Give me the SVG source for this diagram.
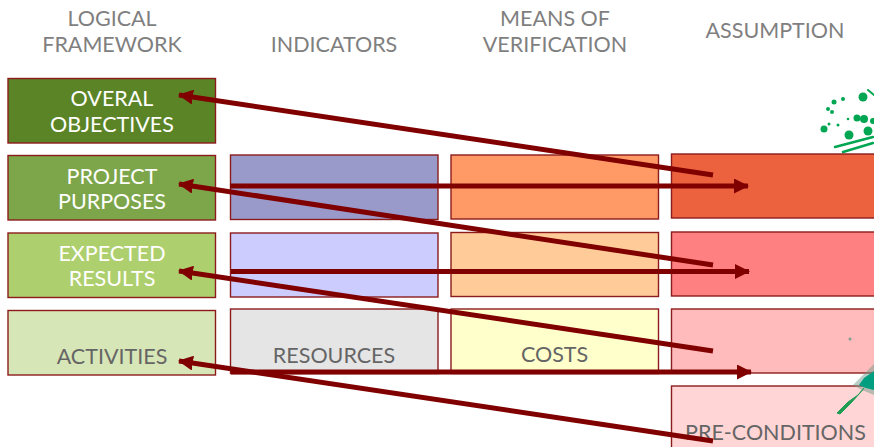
<svg xmlns="http://www.w3.org/2000/svg" width="874" height="447" viewBox="0 0 874 447">
<style>
text{font-family:Lato,"Open Sans","Liberation Sans",sans-serif;font-size:21.500px;text-anchor:middle}
.h{fill:#7f7f7f}
.w{fill:#fff}
.d{fill:#656565}
.b{stroke:#8c1c1c;stroke-width:1.400}
.c{stroke:#800000;stroke-width:5;fill:none}
.s{fill:#00a651;stroke:none}
.t{stroke:#00a651;fill:none;stroke-linecap:round}
</style>
<defs>
<marker id="a" markerUnits="userSpaceOnUse" markerWidth="15" markerHeight="15" refX="14" refY="7.500" orient="auto"><path d="M0 0L15 7.500L0 15z" fill="#800000"/></marker>
</defs>
<g id="hdr-logical"><text class="h" x="112" y="26">LOGICAL</text><text class="h" x="112" y="52">FRAMEWORK</text></g>
<g id="hdr-indicators"><text class="h" x="334" y="52">INDICATORS</text></g>
<g id="hdr-means"><text class="h" x="555" y="26">MEANS OF</text><text class="h" x="555" y="52">VERIFICATION</text></g>
<g id="hdr-assumption"><text class="h" x="775" y="38">ASSUMPTION</text></g>
<g id="splash-top">
<circle class="s" cx="824" cy="129" r="3.500"/><circle class="s" cx="849" cy="135" r="4.500"/><circle class="s" cx="834" cy="102" r="2.500"/><circle class="s" cx="843" cy="99" r="2"/><circle class="s" cx="828" cy="109" r="2"/><circle class="s" cx="832" cy="112" r="2"/><circle class="s" cx="829" cy="124" r="1.500"/><circle class="s" cx="838" cy="125" r="1.500"/><circle class="s" cx="848" cy="119" r="1.300"/><circle class="s" cx="857" cy="118" r="3.500"/><circle class="s" cx="864" cy="119" r="4"/><circle class="s" cx="873" cy="121" r="3"/><circle class="s" cx="868" cy="131" r="4.500"/><circle class="s" cx="863" cy="97" r="4.500"/>
<path class="t" stroke-width="2.500" d="M835 147L873 137"/><path class="t" stroke-width="2.500" d="M843 152L873 143"/><path class="t" stroke-width="2" d="M868 90L874 95"/>
</g>
<g id="n-overal"><rect class="b" x="8" y="78.500" width="207.500" height="64.500" fill="#5b8427"/><text class="w" x="112" y="106">OVERAL</text><text class="w" x="112" y="132">OBJECTIVES</text></g>
<g id="n-purposes"><rect class="b" x="8" y="155.500" width="207.500" height="64.500" fill="#7da64a"/><text class="w" x="112" y="184">PROJECT</text><text class="w" x="112" y="209">PURPOSES</text></g>
<g id="n-results"><rect class="b" x="8" y="233" width="207.500" height="64.500" fill="#aecf6e"/><text class="w" x="112" y="261">EXPECTED</text><text class="w" x="112" y="286">RESULTS</text></g>
<g id="n-activities"><rect class="b" x="8" y="310.500" width="207.500" height="64.500" fill="#d7e6b7"/><text class="d" x="112" y="364">ACTIVITIES</text></g>
<g id="n-ind1"><rect class="b" x="230.500" y="155" width="207.500" height="64.500" fill="#9a9aca"/></g>
<g id="n-ind2"><rect class="b" x="230.500" y="233" width="207.500" height="64" fill="#ccccff"/></g>
<g id="n-resources"><rect class="b" x="230.500" y="309" width="207.500" height="64.500" fill="#e5e5e5"/><text class="d" x="334" y="363">RESOURCES</text></g>
<g id="n-mov1"><rect class="b" x="451" y="155" width="207.500" height="64" fill="#ff9966"/></g>
<g id="n-mov2"><rect class="b" x="451" y="232.500" width="207.500" height="64" fill="#ffcc99"/></g>
<g id="n-costs"><rect class="b" x="451" y="309" width="207.500" height="64.500" fill="#ffffcc"/><text class="d" x="554.500" y="362">COSTS</text></g>
<g id="n-as1"><rect class="b" x="671.500" y="154" width="210" height="64" fill="#ec623f"/></g>
<g id="n-as2"><rect class="b" x="671.500" y="232" width="210" height="64" fill="#ff8080"/></g>
<g id="n-as3"><rect class="b" x="671.500" y="309" width="210" height="64" fill="#ffbbbb"/></g>
<g id="n-pre"><rect class="b" x="671.500" y="386" width="210" height="70" fill="#ffd5d5"/><text class="d" x="775.500" y="440">PRE-CONDITIONS</text></g>
<g id="splash-bottom">
<path d="M874 364L866 372L860 378L853 385L862 390L874 395z" fill="#6f9c8c" opacity=".5"/><path d="M874 371L864 378L859 385L866 388L874 390z" fill="#009e80"/><path d="M837 413L848 402L858 395L864 388L860 393L851 403L840 414z" fill="#1f9d55" stroke="#1f9d55"/><circle cx="850" cy="339" r="1.500" fill="#7da08f"/>
</g>
<g id="connectors">
<line class="c" x1="713" y1="175" x2="179" y2="95" marker-end="url(#a)"/>
<line class="c" x1="230" y1="186" x2="748" y2="186" marker-end="url(#a)"/>
<line class="c" x1="713" y1="265" x2="179" y2="184" marker-end="url(#a)"/>
<line class="c" x1="231" y1="271.500" x2="749" y2="271.500" marker-end="url(#a)"/>
<line class="c" x1="713" y1="351" x2="179" y2="271" marker-end="url(#a)"/>
<line class="c" x1="231" y1="372" x2="751" y2="372" marker-end="url(#a)"/>
<line class="c" x1="713" y1="441" x2="179" y2="361" marker-end="url(#a)"/>
</g>
</svg>
